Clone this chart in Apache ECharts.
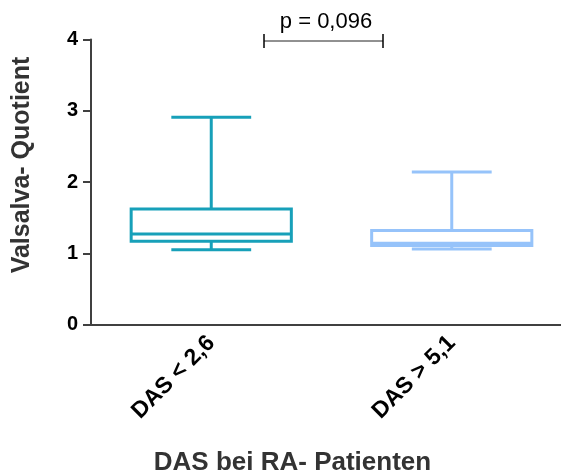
<!DOCTYPE html>
<html>
<head>
<meta charset="utf-8">
<script src="https://cdn.jsdelivr.net/npm/echarts@6/dist/echarts.min.js"></script>
<style>
  html, body { margin: 0; padding: 0; background: #fff; }
  #chart { width: 561px; height: 473px; }
</style>
</head>
<body>
<div id="chart"></div>
<script>
// Gruppen und Boxplot-Kennwerte (Min, Q1, Median, Q3, Max)
const groups = ['DAS < 2,6', 'DAS > 5,1'];
const lowerWhisker = [1.05, 1.06];
const q1 = [1.17, 1.11];
const median = [1.27, 1.14];
const q3 = [1.62, 1.32];
const upperWhisker = [2.91, 2.14];
const groupColors = ['#17a0b9', '#96c3fa'];
const yTicks = [0, 1, 2, 3, 4];
const pLabel = 'p = 0,096';

const chart = echarts.init(document.getElementById('chart'));

const boxData = groups.map((g, i) => [i, lowerWhisker[i], q1[i], median[i], q3[i], upperWhisker[i]]);

function renderBox(params, api) {
  const i = api.value(0);
  const band = api.size([1, 0])[0];
  const half = band * 0.333;
  const capHalf = band * 0.166;
  const pt = v => api.coord([i, v]);
  const pLow = pt(api.value(1));
  const pQ1 = pt(api.value(2));
  const pMed = pt(api.value(3));
  const pQ3 = pt(api.value(4));
  const pHigh = pt(api.value(5));
  const x = pMed[0];
  const style = { stroke: groupColors[i], lineWidth: 3, fill: null };
  const line = (x1, y1, x2, y2) => ({ type: 'line', shape: { x1, y1, x2, y2 }, style });
  return {
    type: 'group',
    children: [
      { type: 'rect', shape: { x: x - half, y: pQ3[1], width: half * 2, height: pQ1[1] - pQ3[1] }, style },
      line(x - half, pMed[1], x + half, pMed[1]),
      line(x, pQ3[1], x, pHigh[1]),
      line(x, pQ1[1], x, pLow[1]),
      line(x - capHalf, pHigh[1], x + capHalf, pHigh[1]),
      line(x - capHalf, pLow[1], x + capHalf, pLow[1])
    ]
  };
}

chart.setOption({
  animation: false,
  grid: { left: 91, top: 39.5, width: 481, height: 285, outerBoundsMode: 'none', containLabel: false },
  xAxis: {
    type: 'category',
    data: groups,
    boundaryGap: true,
    name: 'DAS bei RA- Patienten',
    nameLocation: 'middle',
    nameGap: 125,
    nameTextStyle: {
      fontFamily: 'Liberation Sans, Arial, sans-serif',
      fontWeight: 'bold', fontSize: 26, color: '#333',
      padding: [0, 78, 0, 0]
    },
    axisLine: { lineStyle: { color: '#404040', width: 2 } },
    axisTick: { alignWithLabel: true, length: 8, lineStyle: { color: '#404040', width: 2 } },
    axisLabel: {
      rotate: 45, margin: 15,
      fontFamily: 'Liberation Sans, Arial, sans-serif',
      fontWeight: 'bold', fontSize: 23, color: '#000'
    },
    splitLine: { show: false }
  },
  yAxis: {
    type: 'value',
    min: 0, max: 4, interval: 1,
    name: 'Valsalva- Quotient',
    nameLocation: 'middle',
    nameGap: 56,
    nameTextStyle: {
      fontFamily: 'Liberation Sans, Arial, sans-serif',
      fontWeight: 'bold', fontSize: 25, color: '#333',
      padding: [0, 0, 0, 34]
    },
    axisLine: { show: true, lineStyle: { color: '#404040', width: 2 } },
    axisTick: { show: true, length: 8, lineStyle: { color: '#404040', width: 2 } },
    axisLabel: {
      margin: 13,
      fontFamily: 'Liberation Sans, Arial, sans-serif',
      fontWeight: 'bold', fontSize: 20, color: '#000',
      formatter: v => (yTicks.includes(v) ? String(v) : '')
    },
    splitLine: { show: false }
  },
  series: [{
    type: 'custom',
    renderItem: renderBox,
    data: boxData,
    encode: { x: 0, y: [1, 2, 3, 4, 5] },
    z: 3
  }],
  graphic: [
    {
      type: 'group',
      children: [
        { type: 'line', shape: { x1: 264, y1: 41, x2: 383, y2: 41 }, style: { stroke: '#222', lineWidth: 1 } },
        { type: 'line', shape: { x1: 264, y1: 34, x2: 264, y2: 48 }, style: { stroke: '#000', lineWidth: 1.5 } },
        { type: 'line', shape: { x1: 383, y1: 34, x2: 383, y2: 48 }, style: { stroke: '#000', lineWidth: 1.5 } },
        {
          type: 'text', x: 326, y: 22,
          style: {
            text: pLabel, fill: '#000', align: 'center', verticalAlign: 'middle',
            font: '22px "Liberation Sans", Arial, sans-serif'
          }
        }
      ]
    }
  ]
});
</script>
</body>
</html>
